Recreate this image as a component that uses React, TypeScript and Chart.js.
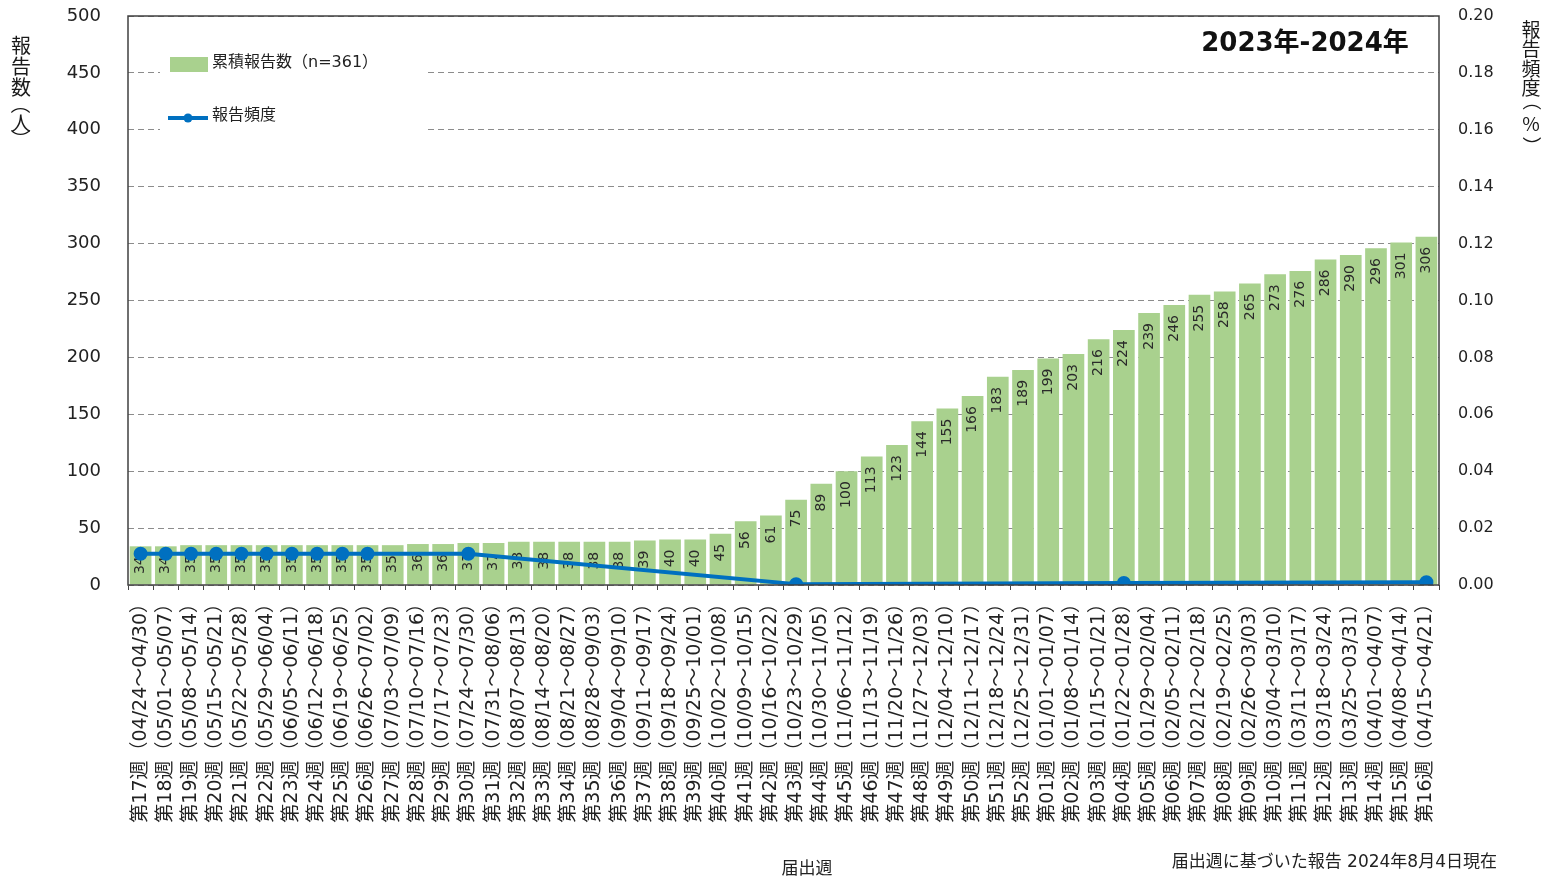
import React, { useEffect, useRef } from 'react';
import { Chart, registerables } from 'chart.js';

Chart.register(...registerables);

const FONT = '"DejaVu Sans", "Noto Sans CJK JP", sans-serif';
const CJK = '"Noto Sans CJK JP", "DejaVu Sans", sans-serif';

const weekLabels: string[] = [
  '第17週（04/24～04/30）', '第18週（05/01～05/07）', '第19週（05/08～05/14）', '第20週（05/15～05/21）',
  '第21週（05/22～05/28）', '第22週（05/29～06/04）', '第23週（06/05～06/11）', '第24週（06/12～06/18）',
  '第25週（06/19～06/25）', '第26週（06/26～07/02）', '第27週（07/03～07/09）', '第28週（07/10～07/16）',
  '第29週（07/17～07/23）', '第30週（07/24～07/30）', '第31週（07/31～08/06）', '第32週（08/07～08/13）',
  '第33週（08/14～08/20）', '第34週（08/21～08/27）', '第35週（08/28～09/03）', '第36週（09/04～09/10）',
  '第37週（09/11～09/17）', '第38週（09/18～09/24）', '第39週（09/25～10/01）', '第40週（10/02～10/08）',
  '第41週（10/09～10/15）', '第42週（10/16～10/22）', '第43週（10/23～10/29）', '第44週（10/30～11/05）',
  '第45週（11/06～11/12）', '第46週（11/13～11/19）', '第47週（11/20～11/26）', '第48週（11/27～12/03）',
  '第49週（12/04～12/10）', '第50週（12/11～12/17）', '第51週（12/18～12/24）', '第52週（12/25～12/31）',
  '第01週（01/01～01/07）', '第02週（01/08～01/14）', '第03週（01/15～01/21）', '第04週（01/22～01/28）',
  '第05週（01/29～02/04）', '第06週（02/05～02/11）', '第07週（02/12～02/18）', '第08週（02/19～02/25）',
  '第09週（02/26～03/03）', '第10週（03/04～03/10）', '第11週（03/11～03/17）', '第12週（03/18～03/24）',
  '第13週（03/25～03/31）', '第14週（04/01～04/07）', '第15週（04/08～04/14）', '第16週（04/15～04/21）',
];

const cumulativeReports: number[] = [
  34, 34, 35, 35, 35, 35, 35, 35, 35, 35, 35, 36, 36, 37, 37, 38, 38, 38, 38, 38,
  39, 40, 40, 45, 56, 61, 75, 89, 100, 113, 123, 144, 155, 166, 183, 189,
  199, 203, 216, 224, 239, 246, 255, 258, 265, 273, 276, 286, 290, 296, 301, 306,
];

const reportFrequency: (number | null)[] = [
  0.011, 0.011, 0.011, 0.011, 0.011, 0.011, 0.011, 0.011, 0.011, 0.011,
  null, null, null, 0.011,
  null, null, null, null, null, null, null, null, null, null, null, null,
  0.0003,
  null, null, null, null, null, null, null, null, null, null, null, null,
  0.0007,
  null, null, null, null, null, null, null, null, null, null, null,
  0.001,
];

const leftAxisTitle = ['報', '告', '数', '（', '人', '）'];
const rightAxisTitle = ['報', '告', '頻', '度', '（', '%', '）'];

const drawVertical = (ctx: CanvasRenderingContext2D, chars: string[], x: number, ys: number[], size: number) => {
  ctx.save();
  ctx.font = `${size}px ${CJK}`;
  ctx.fillStyle = '#1a1a1a';
  ctx.textAlign = 'center';
  ctx.textBaseline = 'middle';
  chars.forEach((ch, i) => {
    const y = ys[i];
    if (ch === '（' || ch === '）') {
      ctx.save();
      ctx.translate(x, y);
      ctx.rotate(Math.PI / 2);
      ctx.fillText(ch, 0, 0);
      ctx.restore();
    } else {
      ctx.fillText(ch, x, y);
    }
  });
  ctx.restore();
};

const decorPlugin = {
  id: 'decor',
  afterDatasetDraw(chart: any, args: any) {
    if (args.index !== 0) return;
    const ctx: CanvasRenderingContext2D = chart.ctx;
    const meta = chart.getDatasetMeta(0);
    ctx.save();
    ctx.font = `14px ${FONT}`;
    ctx.fillStyle = '#2a2a2a';
    ctx.textAlign = 'right';
    ctx.textBaseline = 'middle';
    meta.data.forEach((bar: any, i: number) => {
      ctx.save();
      ctx.translate(bar.x, bar.y + 10);
      ctx.rotate(-Math.PI / 2);
      ctx.fillText(String(cumulativeReports[i]), 0, 0);
      ctx.restore();
    });
    ctx.restore();
  },
  afterDraw(chart: any) {
    const ctx: CanvasRenderingContext2D = chart.ctx;
    const a = chart.chartArea;
    ctx.save();
    // plot border
    ctx.strokeStyle = '#404040';
    ctx.lineWidth = 1.5;
    ctx.strokeRect(a.left, a.top, a.right - a.left, a.bottom - a.top);

    // legend
    ctx.fillStyle = '#fff';
    ctx.fillRect(a.left + 32, a.top + 24, 265, 116);
    ctx.fillStyle = '#A9D18E';
    ctx.fillRect(a.left + 42, a.top + 41, 38, 15);
    ctx.fillStyle = '#222';
    ctx.font = `16px ${FONT}`;
    ctx.textAlign = 'left';
    ctx.textBaseline = 'middle';
    ctx.fillText('累積報告数（n=361）', a.left + 84, a.top + 47);
    ctx.strokeStyle = '#0070C0';
    ctx.lineWidth = 4;
    ctx.beginPath();
    ctx.moveTo(a.left + 40, a.top + 102);
    ctx.lineTo(a.left + 80, a.top + 102);
    ctx.stroke();
    ctx.fillStyle = '#0070C0';
    ctx.beginPath();
    ctx.arc(a.left + 60, a.top + 102, 4.5, 0, Math.PI * 2);
    ctx.fill();
    ctx.fillStyle = '#222';
    ctx.fillText('報告頻度', a.left + 84, a.top + 100);

    // title
    ctx.font = `bold 26px ${FONT}`;
    ctx.textAlign = 'center';
    ctx.fillStyle = '#111';
    ctx.fillText('2023年-2024年', a.right - 134, a.top + 28);

    // x axis title & footer
    ctx.font = `17px ${CJK}`;
    ctx.fillStyle = '#222';
    ctx.fillText('届出週', 807, 868);
    ctx.font = `17px ${FONT}`;
    ctx.textAlign = 'right';
    ctx.fillText('届出週に基づいた報告 2024年8月4日現在', 1497, 863);
    ctx.restore();

    drawVertical(ctx, leftAxisTitle, 21, [45, 66, 87, 104, 123, 139], 20);
    drawVertical(ctx, rightAxisTitle, 1531, [30, 49, 69, 88, 101, 124, 146], 19);
  },
};

export default function App() {
  const ref = useRef<HTMLCanvasElement | null>(null);
  useEffect(() => {
    if (!ref.current) return;
    const chart = new Chart(ref.current, {
      type: 'bar',
      data: {
        labels: weekLabels,
        datasets: [
          {
            type: 'bar',
            label: '累積報告数（n=361）',
            data: cumulativeReports,
            backgroundColor: '#A9D18E',
            barPercentage: 0.86,
            categoryPercentage: 1,
            yAxisID: 'y',
            order: 1,
          } as any,
          {
            type: 'line',
            label: '報告頻度',
            data: reportFrequency,
            yAxisID: 'y2',
            borderColor: '#0070C0',
            backgroundColor: '#0070C0',
            borderWidth: 4,
            pointRadius: 5,
            pointHoverRadius: 5,
            spanGaps: true,
            tension: 0,
            order: 0,
          } as any,
        ],
      },
      options: {
        animation: false,
        responsive: false,
        devicePixelRatio: 1,
        layout: { padding: { top: 16, left: 0, right: 0, bottom: 0 } },
        plugins: {
          legend: { display: false },
          tooltip: { enabled: false },
        },
        scales: {
          x: {
            type: 'category',
            offset: true,
            grid: { display: true, drawOnChartArea: false, drawTicks: true, tickLength: 5, color: '#444' },
            border: { display: false },
            ticks: {
              autoSkip: false,
              maxRotation: 90,
              minRotation: 90,
              padding: 4,
              color: '#222',
              font: { family: FONT, size: 19 },
            },
            afterFit: (s: any) => { s.height = 297; s.paddingLeft = 0; s.paddingRight = 0; },
          },
          y: {
            position: 'left',
            min: 0,
            max: 500,
            ticks: { stepSize: 50, padding: 27, color: '#222', font: { family: FONT, size: 18 } },
            grid: { color: '#8c8c8c', drawTicks: false },
            border: { display: false, dash: [6, 4] },
            afterFit: (s: any) => { s.width = 128; s.paddingTop = 0; s.paddingBottom = 0; },
          },
          y2: {
            position: 'right',
            min: 0,
            max: 0.2,
            ticks: {
              stepSize: 0.02,
              padding: 19,
              color: '#222',
              font: { family: FONT, size: 16 },
              callback: (v: any) => Number(v).toFixed(2),
            },
            grid: { display: false, drawTicks: false },
            border: { display: false },
            afterFit: (s: any) => { s.width = 110; s.paddingTop = 0; s.paddingBottom = 0; },
          },
        },
      },
      plugins: [decorPlugin],
    });
    return () => chart.destroy();
  }, []);

  return (
    <div style={{ position: 'absolute', left: 0, top: 0, width: 1549, height: 882, background: '#fff' }}>
      <canvas ref={ref} width={1549} height={882} style={{ display: 'block' }} />
    </div>
  );
}
